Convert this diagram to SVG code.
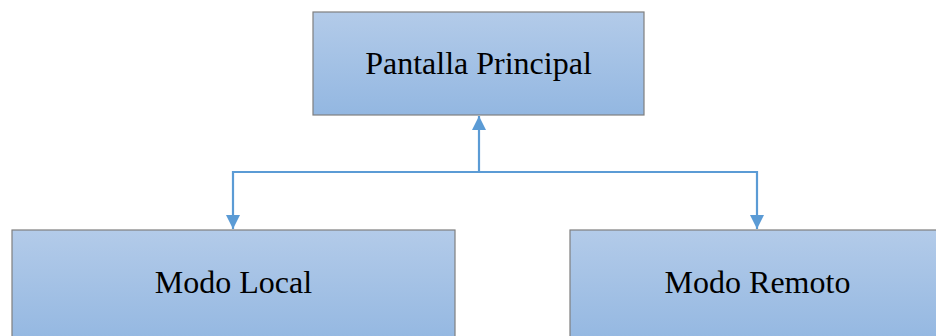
<svg xmlns="http://www.w3.org/2000/svg" width="936" height="336" viewBox="0 0 936 336">
<style>
.box{fill:url(#g);stroke:#7f7f7f;stroke-width:1.2}
.lbl{font-family:"Liberation Serif","Times New Roman",serif;font-size:32px;fill:#000;text-anchor:middle}
.con{fill:none;stroke:#5b9bd5;stroke-width:2.2}
</style>
<defs>
<linearGradient id="g" x1="0" y1="0" x2="0" y2="1">
<stop offset="0" stop-color="#b3cbe9"/>
<stop offset="1" stop-color="#93b7e1"/>
</linearGradient>
<marker id="ah" viewBox="0 0 14 14" refX="14" refY="7" markerWidth="14" markerHeight="14" markerUnits="userSpaceOnUse" orient="auto">
<path d="M0,0 L14,7 L0,14 Z" fill="#5b9bd5"/>
</marker>
</defs>
<g id="node-principal">
<rect class="box" x="313" y="12" width="331" height="103"/>
<text class="lbl" x="478.5" y="74">Pantalla Principal</text>
</g>
<g id="node-local">
<rect class="box" x="12" y="230" width="443" height="115"/>
<text class="lbl" x="233.5" y="293">Modo Local</text>
</g>
<g id="node-remoto">
<rect class="box" x="570" y="230" width="375" height="115"/>
<text class="lbl" x="757.5" y="293">Modo Remoto</text>
</g>
<g id="connectors">
<path class="con" d="M479,172 L479,116" marker-end="url(#ah)"/>
<path class="con" d="M479,172 L233,172 L233,229" marker-end="url(#ah)"/>
<path class="con" d="M479,172 L757,172 L757,229" marker-end="url(#ah)"/>
</g>
</svg>
